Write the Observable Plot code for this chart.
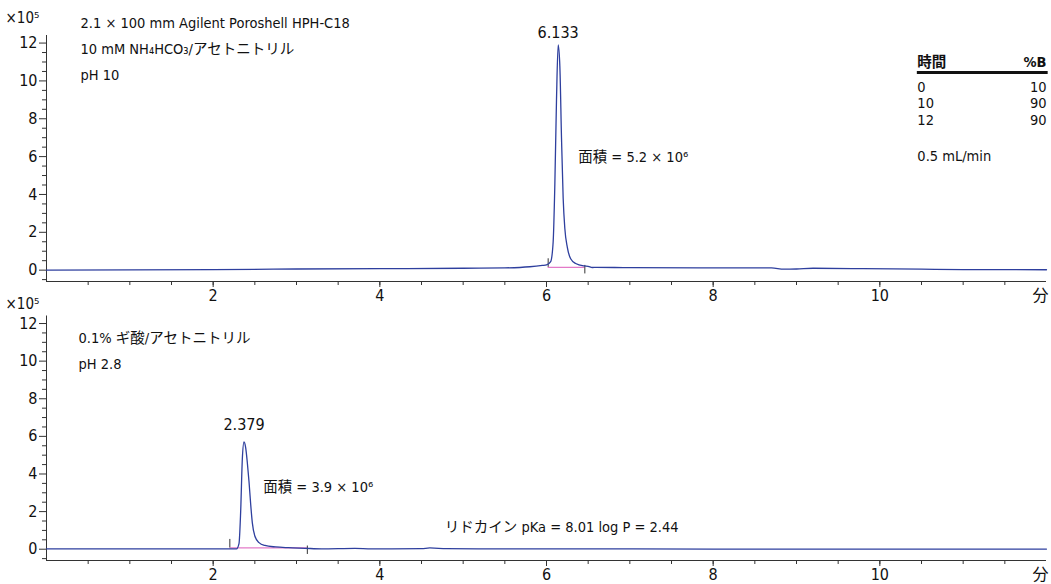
<!DOCTYPE html>
<html><head><meta charset="utf-8">
<script src="https://cdn.jsdelivr.net/npm/d3@7"></script>
<script src="https://cdn.jsdelivr.net/npm/@observablehq/plot@0.6"></script>
<style>
body{margin:0;background:#fff;}
#wrap{position:relative;width:1051px;height:584px;}
#wrap svg{position:absolute;left:0;overflow:visible;}
</style></head><body><div id="wrap"></div>
<script>
// ---- data ----
const topTime   = [0, 1, 2, 3, 4, 5, 5.5, 5.8, 5.95, 6.0, 6.05, 6.08, 6.10, 6.12, 6.14, 6.16, 6.18, 6.20, 6.22, 6.25, 6.29, 6.35, 6.45, 6.5, 6.55, 6.6, 7, 8, 8.7, 8.85, 9.0, 9.2, 9.8, 10.5, 11, 12];
const topSignal = [0, 0.01, 0.03, 0.06, 0.08, 0.1, 0.12, 0.18, 0.25, 0.28, 0.45, 1.5, 4.5, 9.0, 11.9, 10.8, 7.0, 3.8, 2.2, 1.2, 0.6, 0.35, 0.22, 0.2, 0.14, 0.15, 0.13, 0.12, 0.12, 0.05, 0.06, 0.1, 0.08, 0.05, 0.03, 0.02];
const bottomTime   = [0, 1, 2, 2.28, 2.31, 2.33, 2.35, 2.37, 2.39, 2.41, 2.43, 2.45, 2.47, 2.50, 2.55, 2.62, 2.75, 2.9, 3.1, 3.3, 3.7, 3.9, 4.5, 4.6, 4.8, 5.2, 6, 8, 10, 12];
const bottomSignal = [0.02, 0.02, 0.02, 0.02, 0.3, 2.0, 4.8, 5.7, 5.4, 4.6, 3.6, 2.4, 1.4, 0.7, 0.35, 0.2, 0.12, 0.08, 0.05, 0.02, 0.05, 0.02, 0.03, 0.07, 0.03, 0.02, 0.02, 0.01, 0.01, 0.01];

const topPeak = {time: 6.14, height: 11.9, label: "6.133"};
const bottomPeak = {time: 2.37, height: 5.7, label: "2.379"};
const topIntegration = {start: 6.02, end: 6.46, level: 0.15};
const bottomIntegration = {start: 2.2, end: 3.13, level: 0.07};

const topArea = "面積 = 5.2 × 10⁶";
const bottomArea = "面積 = 3.9 × 10⁶";
const topConditions = ["2.1 × 100 mm Agilent Poroshell HPH-C18", "10 mM NH₄HCO₃/アセトニトリル", "pH 10"];
const bottomConditions = ["0.1% ギ酸/アセトニトリル", "pH 2.8"];
const compoundNote = "リドカイン pKa = 8.01 log P = 2.44";
const gradientHeader = ["時間", "%B"];
const gradientTime = ["0", "10", "12"];
const gradientB = ["10", "90", "90"];
const flowRate = "0.5 mL/min";
const yUnit = "×10⁵";

const xLabelTicks = [2, 4, 6, 8, 10];
const xUnitTick = [12];
const xMinorTicks = [0.5, 1, 1.5, 2, 2.5, 3, 3.5, 4, 4.5, 5, 5.5, 6, 6.5, 7, 7.5, 8, 8.5, 9, 9.5, 10, 10.5, 11, 11.5];
const yMajorTicks = [0, 2, 4, 6, 8, 10, 12];
const yMinorTicks = [-0.5, 0.5, 1, 1.5, 2.5, 3, 3.5, 4.5, 5, 5.5, 6.5, 7, 7.5, 8.5, 9, 9.5, 10.5, 11, 11.5];
const xUnitLabel = "分";

// ---- styling ----
const FONT = '"DejaVu Sans Condensed", "Liberation Sans Narrow", "Noto Sans CJK JP", sans-serif';
const TRACE = "#2e3f9e";
const INTEG = "#e37ac8";
const AXIS = "#333";
const xDomain = [0, 12];
const yDomain = [-0.6, 12.4];

function axes(extra) {
  return [
    Plot.ruleX([xDomain[0]], {stroke: AXIS, strokeWidth: 1}),
    Plot.ruleY([yDomain[0]], {stroke: AXIS, strokeWidth: 1}),
    Plot.axisX(xMinorTicks, {anchor: "bottom", tickSize: 4, tickFormat: () => "", stroke: AXIS, label: null}),
    Plot.axisX(xLabelTicks, {anchor: "bottom", tickSize: 6, tickPadding: 2, stroke: AXIS, label: null, fontSize: 16}),
    Plot.axisX(xUnitTick, {anchor: "bottom", tickSize: 0, tickPadding: 8, stroke: AXIS, label: null, fontSize: 16,
      tickFormat: () => xUnitLabel, dx: -6}),
    Plot.axisY(yMinorTicks, {anchor: "left", tickSize: 4, tickFormat: () => "", stroke: AXIS, label: null}),
    Plot.axisY(yMajorTicks, {anchor: "left", tickSize: 7, tickPadding: 2, stroke: AXIS, label: null, fontSize: 16}),
    Plot.text([yUnit], {frameAnchor: "top-left", text: d => d, textAnchor: "start", dx: -41, dy: extra.unitDy, fontSize: 15})
  ];
}

function panel(cfg) {
  const rows = cfg.time.map((t, i) => ({t, v: cfg.signal[i]}));
  const marks = [
    ...axes(cfg),
    Plot.ruleY([cfg.integ], {y: "level", x1: "start", x2: "end", stroke: INTEG, strokeWidth: 1.3}),
    Plot.ruleX([cfg.integ], {x: "start", y1: d => d.level, y2: d => d.level + 0.45, stroke: AXIS, strokeWidth: 1}),
    Plot.ruleX([cfg.integ], {x: "end", y1: d => d.level + 0.1, y2: d => d.level - 0.35, stroke: AXIS, strokeWidth: 1}),
    Plot.line(rows, {x: "t", y: "v", stroke: TRACE, strokeWidth: 1.3, curve: "monotone-x"}),
    Plot.text([cfg.peak], {x: "time", y: "height", text: "label", dy: cfg.peakDy, fontSize: 16}),
    ...cfg.extraMarks
  ];
  const svg = Plot.plot({
    width: 1051, height: cfg.height,
    marginLeft: 46, marginRight: 5, marginTop: cfg.marginTop, marginBottom: cfg.marginBottom,
    x: {domain: xDomain, label: null, axis: null},
    y: {domain: yDomain, label: null, axis: null},
    style: {fontFamily: FONT, fontSize: "14.5px", background: "transparent", overflow: "visible", color: "#111"},
    marks
  });
  svg.style.top = cfg.top + "px";
  return svg;
}

const topSvg = panel({
  time: topTime, signal: topSignal, peak: topPeak, integ: topIntegration,
  height: 292, top: 0, marginTop: 35, marginBottom: 11, unitDy: -23, peakDy: -12,
  extraMarks: [
    ...topConditions.map((s, i) => Plot.text([s], {frameAnchor: "top-left", text: d => d, textAnchor: "start", dx: 34, dy: -18 + i * 26})),
    Plot.text([topArea], {x: () => 6.38, y: () => 5.97, text: d => d, textAnchor: "start"}),
    Plot.text([gradientHeader[0]], {x: () => 10.45, y: () => 11.0, text: d => d, textAnchor: "start", fontWeight: "bold"}),
    Plot.text([gradientHeader[1]], {x: () => 12.0, y: () => 11.0, text: d => d, textAnchor: "end", fontWeight: "bold"}),
    Plot.ruleY([0], {y: () => 10.45, x1: () => 10.45, x2: () => 12.02, stroke: "#111", strokeWidth: 3}),
    Plot.text(gradientTime, {x: () => 10.45, y: (d, i) => 9.67 - i * 0.87, text: d => d, textAnchor: "start"}),
    Plot.text(gradientB, {x: () => 12.0, y: (d, i) => 9.67 - i * 0.87, text: d => d, textAnchor: "end"}),
    Plot.text([flowRate], {x: () => 10.45, y: () => 6.03, text: d => d, textAnchor: "start"})
  ]
});

const bottomSvg = panel({
  time: bottomTime, signal: bottomSignal, peak: bottomPeak, integ: bottomIntegration,
  height: 292, top: 292, marginTop: 23.5, marginBottom: 24, unitDy: -17.5, peakDy: -17,
  extraMarks: [
    ...bottomConditions.map((s, i) => Plot.text([s], {frameAnchor: "top-left", text: d => d, textAnchor: "start", dx: 32, dy: 17 + i * 26})),
    Plot.text([bottomArea], {x: () => 2.6, y: () => 3.3, text: d => d, textAnchor: "start"}),
    Plot.text([compoundNote], {x: () => 4.78, y: () => 1.17, text: d => d, textAnchor: "start"})
  ]
});

document.getElementById("wrap").append(topSvg, bottomSvg);
</script>
</body></html>
